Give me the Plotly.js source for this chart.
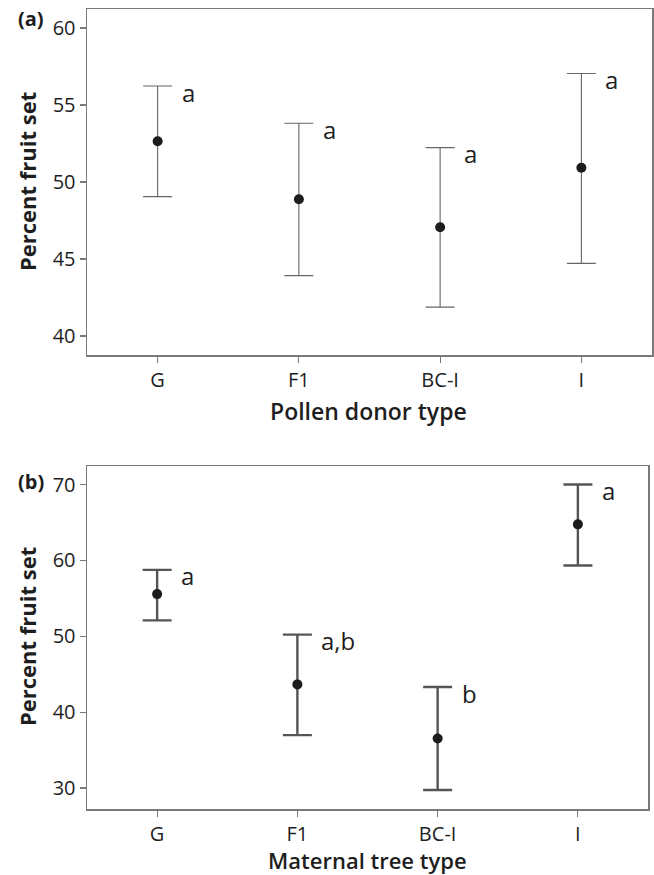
<!DOCTYPE html>
<html>
<head>
<meta charset="utf-8">
<script src="https://cdn.plot.ly/plotly-3.0.1.min.js"></script>
<style>html,body{margin:0;padding:0;background:#fff;}#chart{width:654px;height:875px;}</style>
</head>
<body>
<div id="chart"></div>
<script>
// ---- Data ----
const categories = ["G", "F1", "BC-I", "I"];

// Panel (a): Pollen donor type
const meanA  = [52.64, 48.88, 47.06, 50.93];
const upperA = [56.23, 53.81, 52.23, 57.04];
const lowerA = [49.05, 43.92, 41.88, 44.72];
const lettersA = ["a", "a", "a", "a"];

// Panel (b): Maternal tree type
const meanB  = [55.56, 43.66, 36.54, 64.75];
const upperB = [58.75, 50.22, 43.31, 70.0];
const lowerB = [52.1, 36.97, 29.75, 59.32];
const lettersB = ["a", "a,b", "b", "a"];

const W = 654, H = 875;
const FONT = "Open Sans";
const TXT = "#1e1e1e";

function trace(mean, up, lo, xa, ya, thick, col) {
  return {
    type: "scatter", mode: "markers",
    x: categories, y: mean, xaxis: xa, yaxis: ya,
    marker: {size: 10, color: "#1c1c1c"},
    error_y: {
      type: "data", symmetric: false,
      array: up.map((u, i) => u - mean[i]),
      arrayminus: lo.map((l, i) => mean[i] - l),
      color: col, thickness: thick, width: 14.5
    },
    showlegend: false, hoverinfo: "skip"
  };
}

const data = [
  trace(meanA, upperA, lowerA, "x", "y", 1.1, "#666"),
  trace(meanB, upperB, lowerB, "x2", "y2", 2.4, "#555")
];

function ax(extra) {
  return Object.assign({
    showline: true, mirror: true, linecolor: "#7a7a7a", linewidth: 1.5,
    ticks: "outside", ticklen: 6, tickcolor: "#7a7a7a", tickwidth: 1.2,
    showgrid: false, zeroline: false,
    tickfont: {family: FONT, size: 20, color: TXT}
  }, extra);
}

const annotations = [];
function addLetters(letters, upper, xr, yr) {
  letters.forEach((t, i) => {
    annotations.push({
      x: categories[i], y: upper[i], xref: xr, yref: yr,
      text: t, showarrow: false, xanchor: "left", yanchor: "middle",
      xshift: 22, yshift: -6,
      font: {family: FONT, size: 24, color: TXT}
    });
  });
}
addLetters(lettersA, upperA, "x", "y");
addLetters(lettersB, upperB, "x2", "y2");

function px(x) { return x / W; }
function py(y) { return 1 - y / H; }

function addText(text, x, y, size, weight, angle) {
  annotations.push({
    x: px(x), y: py(y), xref: "paper", yref: "paper",
    text: text,
    showarrow: false, xanchor: "center", yanchor: "middle",
    textangle: angle || 0,
    font: {family: FONT, size: size, color: TXT, weight: weight}
  });
}
addText("(a)", 31, 19, 20, 700);
addText("(b)", 31, 481, 20, 700);
addText("Percent fruit set", 27, 182, 22, 700, -90);
addText("Percent fruit set", 27, 637, 22, 700, -90);
addText("Pollen donor type", 369, 411, 23, 600);
addText("Maternal tree type", 367, 860, 22, 600);

const layout = {
  width: W, height: H,
  margin: {l: 0, r: 0, t: 0, b: 0},
  paper_bgcolor: "#fff", plot_bgcolor: "#fff",
  font: {family: FONT, size: 20, color: TXT},
  xaxis: ax({
    domain: [87 / W, 652 / W], anchor: "y",
    type: "category", range: [-0.5, 3.5], ticklabelstandoff: 0
  }),
  yaxis: ax({
    domain: [py(355), py(9)], anchor: "x",
    range: [38.77, 61.23], tickvals: [40, 45, 50, 55, 60]
  }),
  xaxis2: ax({
    domain: [87 / W, 648 / W], anchor: "y2",
    type: "category", range: [-0.5, 3.5], ticklabelstandoff: 0
  }),
  yaxis2: ax({
    domain: [py(809), py(466)], anchor: "x2",
    range: [27.24, 72.44], tickvals: [30, 40, 50, 60, 70]
  }),
  annotations: annotations
};

Plotly.newPlot("chart", data, layout, {displayModeBar: false, staticPlot: true});
</script>
</body>
</html>
